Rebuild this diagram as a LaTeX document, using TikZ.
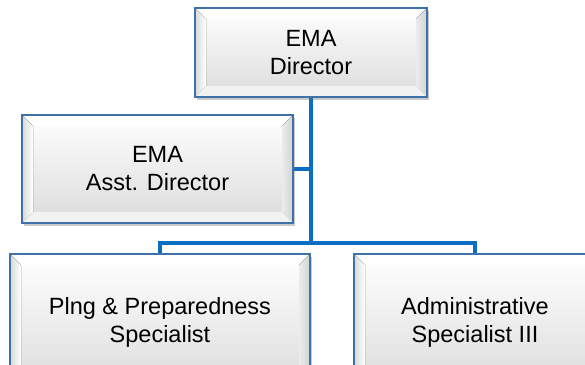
\documentclass[tikz,border=0pt]{standalone}
\usepackage{fontspec}
\setmainfont{Liberation Sans}
\usetikzlibrary{calc,shadows,backgrounds}
\definecolor{boxblue}{HTML}{3F72A8}
\definecolor{linkblue}{HTML}{0A6FC2}
\tikzset{
  orgbox/.style={draw=boxblue, line width=1.6pt, align=center, inner sep=0pt,
    font=\fontsize{23.5}{28}\selectfont,
    top color=white, bottom color=gray!28,
    drop shadow={shadow xshift=2pt, shadow yshift=-3pt, opacity=0.35, fill=black!60},
    path picture={
      \coordinate (nw) at (path picture bounding box.north west);
      \coordinate (ne) at (path picture bounding box.north east);
      \coordinate (sw) at (path picture bounding box.south west);
      \coordinate (se) at (path picture bounding box.south east);
      \fill[white] (nw) -- (ne) -- ($(ne)+(-11pt,-11pt)$) -- ($(nw)+(11pt,-11pt)$) -- cycle;
      \fill[left color=gray!30, right color=white] (nw) -- ($(nw)+(11pt,-11pt)$) -- ($(sw)+(11pt,11pt)$) -- (sw) -- cycle;
      \fill[left color=gray!15, right color=gray!35] (ne) -- ($(ne)+(-11pt,-11pt)$) -- ($(se)+(-11pt,11pt)$) -- (se) -- cycle;
      \fill[gray!10] (sw) -- (se) -- ($(se)+(-11pt,11pt)$) -- ($(sw)+(11pt,11pt)$) -- cycle;
    }},
  link/.style={draw=linkblue, line width=4pt}
}
\begin{document}
\begin{tikzpicture}[x=1pt,y=-1pt]
\useasboundingbox (0,0) rectangle (585,364);
\clip (0,0) rectangle (585,364);
\node[orgbox, minimum width=232pt, minimum height=89pt] (dir) at (311,52.5) {EMA\\Director};
\node[orgbox, minimum width=271pt, minimum height=108pt] (asst) at (157.5,169) {EMA\\Asst. Director};
\node[orgbox, minimum width=300pt, minimum height=136pt] (plng) at (160,322) {Plng \& Preparedness\\Specialist};
\node[orgbox, minimum width=242pt, minimum height=136pt] (adm) at (475,322) {Administrative\\Specialist III};
\coordinate (j) at (311,243);
\begin{pgfonlayer}{background}
\draw[link] (dir.south) -- (j);
\draw[link] (asst.east) -- (asst.east -| j);
\draw[link, line join=miter] (plng.north) |- (j) -| (adm.north);
\end{pgfonlayer}
\end{tikzpicture}
\end{document}
